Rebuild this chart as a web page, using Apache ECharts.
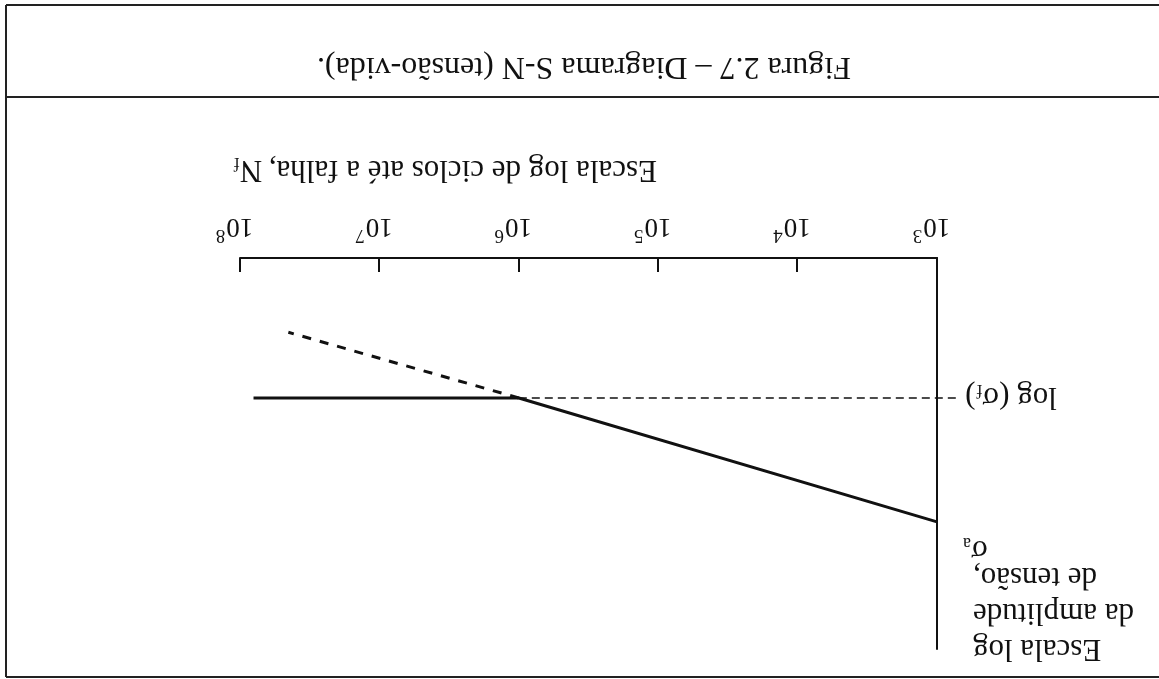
<!DOCTYPE html>
<html>
<head>
<meta charset="utf-8">
<title>Diagrama S-N</title>
<script src="https://cdn.jsdelivr.net/npm/echarts@6/dist/echarts.min.js"></script>
<style>
  html, body { margin: 0; padding: 0; background: #ffffff; }
  /* the figure page is printed upside down, so the whole drawing is turned 180 degrees */
  #chart { width: 1159px; height: 679px; transform: rotate(180deg); transform-origin: 50% 50%; }
</style>
</head>
<body>
<div id="chart"></div>
<script>
// ---- data ----
const tickExponents = [3, 4, 5, 6, 7, 8];            // log scale decades, N_f = 10^n
const snCycles = [1e3, 1e6, 8e7];                    // S-N curve: sloped part, then fatigue limit plateau
const snStress = [67.5, 35.8, 35.8];                 // log amplitude (arbitrary units)
const extCycles = [1e6, 4.5e7];                      // continuation of the slope past the knee
const extStress = [35.8, 19];
const limitCycles = [1e6, 700];                      // reference line for log(sigma_f) back past the stress axis
const limitStress = [35.8, 35.8];

const titleText = 'Figura 2.7 – Diagrama S-N (tensão-vida).';
const xNameMain = 'Escala log de ciclos até a falha,';
const yNameLines = ['Escala log', 'da amplitude', 'de tensão,'];

const SERIF = "'Liberation Serif', 'Times New Roman', 'DejaVu Serif', serif";
const INK = '#111111';

// plot box and the width of one decade on the cycle axis
const PLOT_LEFT = 222, PLOT_RIGHT = 240, PLOT_TOP = 30, PLOT_BOTTOM = 258;
const DECADE_PX = (1159 - PLOT_LEFT - PLOT_RIGHT) / (tickExponents[tickExponents.length - 1] - tickExponents[0]);
// a hidden twin axis, same scale, reaching a little to the left of 10^3 for the log(sigma_f) guide
const TWIN_MIN = 2.5;

// the cycle axis is drawn on decades: each point is placed at log10(N)
const zip = (xs, ys) => xs.map((x, i) => [Math.log10(x), ys[i]]);

const limitData = zip(limitCycles, limitStress).map((p, i) =>
  i === limitCycles.length - 1
    ? {
        value: p,
        label: {
          show: true,
          position: 'left',
          distance: 6,
          formatter: '{t|log (}{g|σ}{s|f}{t|)}',
          rich: {
            t: { fontFamily: SERIF, fontSize: 31, color: INK, lineHeight: 34, verticalAlign: 'bottom' },
            g: { fontFamily: SERIF, fontSize: 31, color: INK, lineHeight: 34, verticalAlign: 'bottom' },
            s: { fontFamily: SERIF, fontSize: 18, color: INK, lineHeight: 18, verticalAlign: 'bottom', padding: [0, 1, 0, 0] }
          }
        }
      }
    : { value: p, label: { show: false } }
);

const hiddenAxis = {
  axisLine: { show: false }, axisTick: { show: false },
  axisLabel: { show: false }, splitLine: { show: false }
};

const chart = echarts.init(document.getElementById('chart'), null, { renderer: 'canvas' });

chart.setOption({
  backgroundColor: '#ffffff',
  animation: false,
  grid: [
    { left: PLOT_LEFT, right: PLOT_RIGHT, top: PLOT_TOP, bottom: PLOT_BOTTOM, containLabel: false },
    { left: PLOT_LEFT - (tickExponents[0] - TWIN_MIN) * DECADE_PX, right: PLOT_RIGHT, top: PLOT_TOP, bottom: PLOT_BOTTOM, containLabel: false }
  ],
  xAxis: [
    {
      type: 'value',
      gridIndex: 0,
      min: tickExponents[0],
      max: tickExponents[tickExponents.length - 1],
      interval: 1,
      axisLine: { show: true, lineStyle: { color: INK, width: 2 } },
      axisTick: { show: true, inside: true, length: 14, lineStyle: { color: INK, width: 2 } },
      splitLine: { show: false },
      axisLabel: {
        margin: 18,
        padding: [0, 0, 0, 11],
        formatter: v => '{b|10}{e|' + Math.round(v) + '}',
        rich: {
          b: { fontFamily: SERIF, fontSize: 27, color: INK, lineHeight: 27, verticalAlign: 'bottom' },
          e: { fontFamily: SERIF, fontSize: 19, color: INK, lineHeight: 19, verticalAlign: 'bottom', padding: [0, 0, 12, 1] }
        }
      }
    },
    Object.assign({
      type: 'value', gridIndex: 1,
      min: TWIN_MIN, max: tickExponents[tickExponents.length - 1]
    }, hiddenAxis)
  ],
  yAxis: [
    {
      type: 'value',
      gridIndex: 0,
      min: 0,
      max: 100,
      axisLine: { show: true, lineStyle: { color: INK, width: 2 } },
      axisTick: { show: false },
      axisLabel: { show: false },
      splitLine: { show: false }
    },
    Object.assign({ type: 'value', gridIndex: 1, min: 0, max: 100 }, hiddenAxis)
  ],
  series: [
    {
      name: 'curva S-N',
      type: 'line',
      data: zip(snCycles, snStress),
      symbol: 'none',
      lineStyle: { color: INK, width: 3 },
      z: 3
    },
    {
      name: 'extrapolação',
      type: 'line',
      data: zip(extCycles, extStress),
      symbol: 'none',
      lineStyle: { color: INK, width: 3, type: [9, 9] },
      z: 3
    },
    {
      name: 'limite de fadiga',
      type: 'line',
      xAxisIndex: 1,
      yAxisIndex: 1,
      data: limitData,
      // tiny invisible markers carry the end label
      symbol: 'circle',
      symbolSize: 1,
      showSymbol: true,
      itemStyle: { color: 'rgba(0,0,0,0)' },
      lineStyle: { color: INK, width: 1.6, type: [8, 5] },
      z: 2
    }
  ],
  graphic: [
    // frame of the figure box and the caption divider
    { type: 'line', shape: { x1: 0, y1: 674, x2: 1153, y2: 674 }, style: { stroke: '#222', lineWidth: 2 } },
    { type: 'line', shape: { x1: 0, y1: 582, x2: 1153, y2: 582 }, style: { stroke: '#222', lineWidth: 2 } },
    { type: 'line', shape: { x1: 0, y1: 2, x2: 1153, y2: 2 }, style: { stroke: '#222', lineWidth: 2 } },
    { type: 'line', shape: { x1: 1153, y1: 2, x2: 1153, y2: 674 }, style: { stroke: '#222', lineWidth: 2 } },
    // caption
    {
      type: 'text', x: 575, y: 613,
      style: { text: titleText, fontFamily: SERIF, fontSize: 32, fill: INK, align: 'center', verticalAlign: 'middle' }
    },
    // x axis name
    {
      type: 'text', x: 502, y: 508,
      style: {
        text: '{t|' + xNameMain + '}  {t|N}{s|f}',
        align: 'left', verticalAlign: 'middle',
        rich: {
          t: { fontFamily: SERIF, fontSize: 31, fill: INK, color: INK, lineHeight: 34, verticalAlign: 'bottom' },
          s: { fontFamily: SERIF, fontSize: 18, fill: INK, color: INK, lineHeight: 18, verticalAlign: 'bottom' }
        }
      }
    },
    // y axis name
    {
      type: 'text', x: 186, y: 13,
      style: {
        text: yNameLines.join('\n'),
        fontFamily: SERIF, fontSize: 31, fill: INK,
        align: 'right', verticalAlign: 'top', lineHeight: 36
      }
    },
    {
      type: 'text', x: 196, y: 128,
      style: {
        text: '{g|σ}{s|a}',
        align: 'right', verticalAlign: 'middle',
        rich: {
          g: { fontFamily: SERIF, fontSize: 31, fill: INK, color: INK, lineHeight: 34, verticalAlign: 'bottom' },
          s: { fontFamily: SERIF, fontSize: 18, fill: INK, color: INK, lineHeight: 18, verticalAlign: 'bottom' }
        }
      }
    }
  ]
});
</script>
</body>
</html>
